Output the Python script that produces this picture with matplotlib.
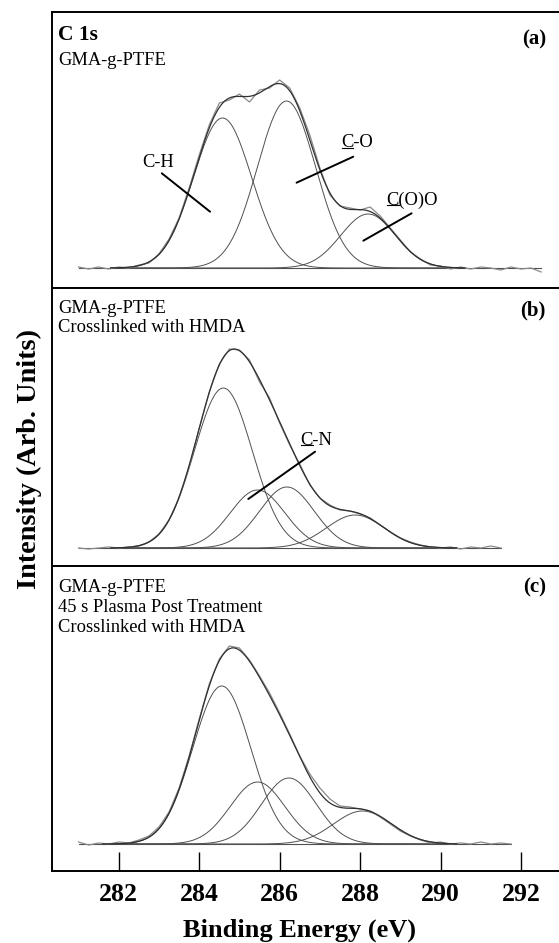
import numpy as np
import matplotlib
matplotlib.use("Agg")
import matplotlib.pyplot as plt
from matplotlib.lines import Line2D

# ---------------- data ----------------
tick_values = [282, 284, 286, 288, 290, 292]

# measured spectra (binding energy grid, intensity in arb. units)
a_meas_x = np.arange(281.0, 292.51, 0.25)
a_meas_y = [1, -1, 1, -1, 1, 0, 3, 5, 14, 29, 50, 80, 113, 143, 165, 168, 174,
            166, 178, 180, 188, 180, 160, 133, 100, 73, 62, 60, 58, 61, 52, 40,
            28, 16, 9, 3, 2, -1, 1, -1, 1, 0, -2, 1, -1, 0, -4]
b_meas_x = np.arange(281.0, 291.51, 0.25)
b_meas_y = [0, -1, 0, 1, 0, 1, 2, 6, 14, 28, 50, 81, 120, 156, 184, 199, 198,
            188, 166, 150, 125, 103, 84, 63, 50, 43, 38, 37, 34, 30, 23, 16,
            10, 6, 3, 1, 0, 1, -1, 1, 0, 2, 0]
c_meas_x = np.arange(281.0, 291.76, 0.25)
c_meas_y = [2, -1, 1, 0, 2, 1, 4, 8, 17, 32, 56, 88, 125, 160, 185, 198, 196,
            184, 168, 151, 131, 110, 88, 70, 56, 45, 38, 37, 35, 33, 27, 20,
            13, 8, 4, 1, 2, 0, 1, 0, 2, 0, 1, 0]

# fitted Gaussian components: centre (eV), height, FWHM (eV)
a_centers = [284.58, 286.17, 288.20]
a_heights = [150, 167, 54]
a_fwhm = [1.7, 1.7, 1.6]

b_centers = [284.60, 285.45, 286.18, 287.88]
b_heights = [160, 58, 61, 33]
b_fwhm = [1.7, 1.6, 1.6, 1.7]

c_centers = [284.56, 285.45, 286.23, 288.06]
c_heights = [158, 62, 66, 33]
c_fwhm = [1.7, 1.6, 1.6, 1.7]

fit_ranges = [(281.8, 290.6), (281.8, 290.4), (281.6, 290.4)]

# ---------------- style ----------------
plt.rcParams["font.family"] = ["Liberation Serif", "DejaVu Serif"]

def gauss(x, c, h, w):
    return h * np.exp(-4 * np.log(2) * (x - c) ** 2 / w ** 2)

fig = plt.figure(figsize=(5.59, 9.43), dpi=100)
gs = fig.add_gridspec(3, 1, height_ratios=[276, 278, 305], hspace=0,
                      left=52 / 559, right=1.0,
                      top=1 - 12 / 943, bottom=1 - 871 / 943)
axes = [fig.add_subplot(gs[i]) for i in range(3)]
ylims = [(-20, 256), (-18, 260), (-27, 278)]

panels = [
    (a_meas_x, a_meas_y, a_centers, a_heights, a_fwhm),
    (b_meas_x, b_meas_y, b_centers, b_heights, b_fwhm),
    (c_meas_x, c_meas_y, c_centers, c_heights, c_fwhm),
]

for ax, (mx, my, cs, hs, ws), (lo, hi), yl in zip(axes, panels, fit_ranges, ylims):
    ax.set_xlim(280.34, 292.945)
    ax.set_ylim(*yl)
    xf = np.linspace(lo, hi, 600)
    env = np.zeros_like(xf)
    for c, h, w in zip(cs, hs, ws):
        comp = gauss(xf, c, h, w)
        env += comp
        ax.plot(xf, comp, color="#505050", lw=0.7)
    ax.plot([mx[0], mx[-1]], [0, 0], color="#505050", lw=0.8)
    ax.plot(mx, my, color="#8a8a8a", lw=0.9)
    ax.plot(xf, env, color="#303030", lw=0.9)
    ax.spines["right"].set_visible(False)
    for s in ["top", "bottom", "left"]:
        ax.spines[s].set_linewidth(1.4)
    ax.set_yticks([])
    ax.set_xticks(tick_values)
    ax.tick_params(axis="x", direction="in", length=13.8, width=1.0,
                   labelsize=18.5, pad=8.5, top=False)
    if ax is not axes[-1]:
        ax.tick_params(axis="x", length=0, labelbottom=False)
    else:
        for lab in ax.get_xticklabels():
            lab.set_fontweight("bold")

ax_a, ax_b, ax_c = axes
TXT = 13.3
XL = 280.49
XR = 292.62
LINE = dict(arrowstyle="-", lw=1.4, color="black", shrinkA=0, shrinkB=0)

underlined = []

def label_underlined(ax, x, y, first, rest):
    t = ax.text(x, y, first + rest, fontsize=TXT, ha="center", va="center")
    underlined.append((t, first))

# panel (a)
ax_a.text(XL, 228, "C 1s", fontsize=15.5, fontweight="bold", va="baseline")
ax_a.text(XL, 203, "GMA-g-PTFE", fontsize=TXT, va="baseline")
ax_a.text(XR, 224, "(a)", fontsize=15, fontweight="bold", ha="right", va="baseline")
ax_a.text(282.98, 106, "C-H", fontsize=TXT, ha="center", va="center")
ax_a.annotate("", xy=(284.27, 56.3), xytext=(283.07, 94.7), arrowprops=LINE)
label_underlined(ax_a, 287.92, 125.3, "C", "-O")
ax_a.annotate("", xy=(286.42, 85.3), xytext=(287.83, 111.3), arrowprops=LINE)
label_underlined(ax_a, 289.3, 68, "C", "(O)O")
ax_a.annotate("", xy=(288.08, 27.3), xytext=(289.28, 54.7), arrowprops=LINE)

# panel (b)
ax_b.text(XL, 235, "GMA-g-PTFE", fontsize=TXT, va="baseline")
ax_b.text(XL, 216, "Crosslinked with HMDA", fontsize=TXT, va="baseline")
ax_b.text(XR, 233, "(b)", fontsize=15, fontweight="bold", ha="right", va="baseline")
label_underlined(ax_b, 286.92, 108, "C", "-N")
ax_b.annotate("", xy=(285.22, 49), xytext=(286.88, 96.3), arrowprops=LINE)

# panel (c)
ax_c.text(XL, 252, "GMA-g-PTFE", fontsize=TXT, va="baseline")
ax_c.text(XL, 232, "45 s Plasma Post Treatment", fontsize=TXT, va="baseline")
ax_c.text(XL, 212, "Crosslinked with HMDA", fontsize=TXT, va="baseline")
ax_c.text(XR, 252, "(c)", fontsize=15, fontweight="bold", ha="right", va="baseline")

fig.text(299.7 / 559, 1 - 937 / 943, "Binding Energy (eV)", fontsize=19,
         fontweight="bold", ha="center", va="baseline")
fig.text(29 / 559, 1 - 459 / 943, "Intensity (Arb. Units)", fontsize=20.3,
         fontweight="bold", ha="center", va="center", rotation=90)

# underline the first character of the peak labels
fig.canvas.draw()
renderer = fig.canvas.get_renderer()
inv = fig.transFigure.inverted()
for t, first in underlined:
    bb = t.get_window_extent(renderer)
    tmp = fig.text(0, 0, first, fontsize=TXT)
    w = tmp.get_window_extent(renderer).width
    tmp.remove()
    y_line = bb.y0 + 3.2
    p0 = inv.transform((bb.x0 + 0.5, y_line))
    p1 = inv.transform((bb.x0 + w - 0.5, y_line))
    fig.add_artist(Line2D([p0[0], p1[0]], [p0[1], p1[1]],
                          transform=fig.transFigure, color="black", lw=0.8))

fig.savefig("out.png", dpi=100)
